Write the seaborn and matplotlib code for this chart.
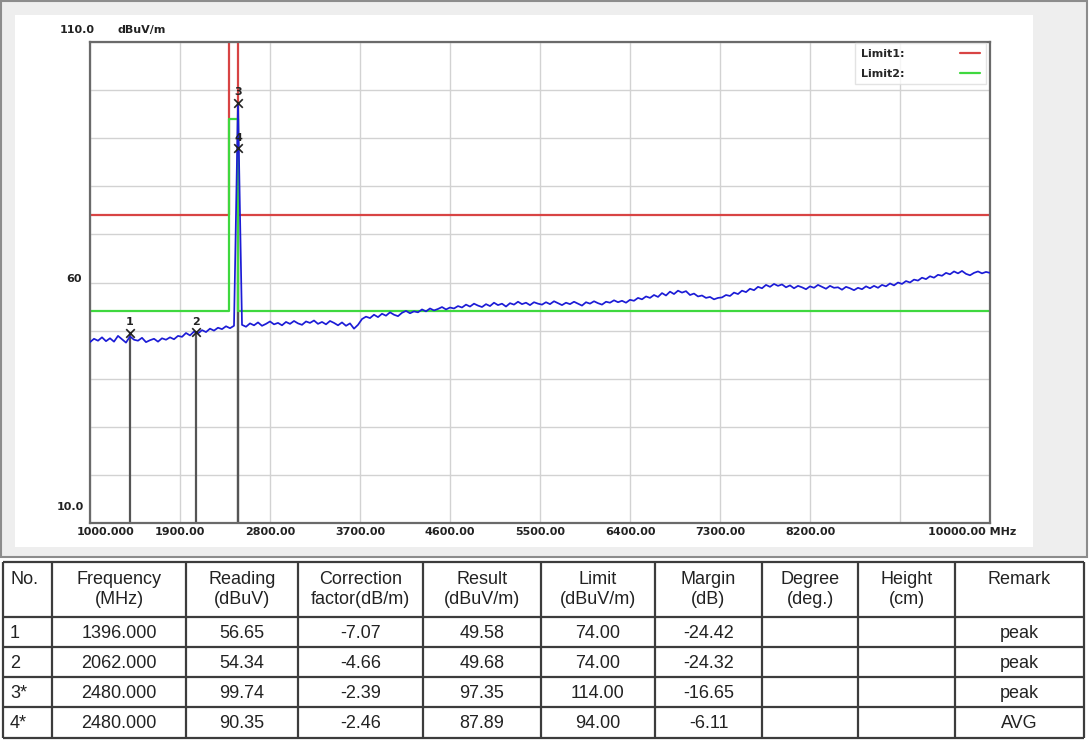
#Standard imports
from matplotlib import pyplot as plt
from matplotlib.lines import Line2D
from matplotlib.patches import Rectangle
import matplotlib.transforms as mtransforms
import numpy as np
import seaborn as sns

# ---- chart data ----
# sweep grid of the analyser (MHz), one reading every 40 MHz
freq_mhz = np.arange(1000, 10001, 40)

level_dbuv = [
    47.6, 48.3, 47.9, 48.6, 47.8, 48.4, 47.7, 48.9, 48.2, 47.5,
    48.8, 48.1, 47.9, 48.5, 47.6, 48.0, 48.3, 47.7, 48.4, 48.1,
    48.6, 48.2, 48.9,
    48.7, 49.5, 49.0, 49.8, 49.4, 50.1, 49.7, 50.4, 50.0, 50.6, 50.3, 50.9, 50.5, 51.0,
    97.35,
    51.2, 50.8, 51.5, 51.1, 51.7, 51.0, 51.4, 51.9, 51.3, 51.6,
    51.1, 51.8, 51.4, 52.0, 51.5, 51.2, 51.9, 51.6, 52.1, 51.4,
    51.8, 51.3, 52.0, 51.6, 51.1, 51.7, 51.0, 51.5, 50.4, 51.2,
    52.4, 52.9, 52.6, 53.3, 52.8, 53.5, 53.1, 53.8, 53.3, 53.0,
    53.7, 54.1, 53.6, 54.0, 53.8, 54.4, 54.0, 54.6, 54.2, 54.5,
    54.9, 54.4, 54.8,
    54.6, 55.1, 54.8, 55.4, 55.0, 55.6, 55.2, 54.9, 55.5, 55.1,
    55.8, 55.3, 55.6, 55.0, 55.7, 55.4, 56.0, 55.5, 55.8, 55.3,
    55.9, 55.6,
    55.4, 55.9, 55.5, 56.1, 55.7, 55.3, 55.8, 55.5, 56.0, 55.6,
    55.2, 55.9, 55.6, 56.1, 55.7, 55.4, 56.0, 55.8, 56.3, 55.9,
    56.2, 55.8, 56.4,
    56.2, 56.8, 56.5, 57.1, 56.8, 57.4, 57.0, 57.8, 57.3, 58.1, 57.6, 58.3,
    57.9, 58.2, 57.4, 57.7, 57.1, 57.3, 56.8, 57.0, 56.5, 56.8,
    56.9, 57.4, 57.2, 57.9, 57.6, 58.3, 58.0, 58.7, 58.4, 59.1, 58.8, 59.5, 59.1, 59.7, 59.3,
    59.6, 59.0, 59.4, 58.8, 59.3, 59.0, 58.6, 59.2, 58.9, 59.5,
    59.1, 58.7, 59.3, 58.9, 59.0, 58.5, 59.1, 58.8, 58.4, 58.9,
    58.6, 59.2, 58.8, 59.3, 58.9, 59.5, 59.2, 59.8, 59.4, 60.0,
    59.7, 60.3, 60.0, 60.6, 60.4, 61.0, 60.7, 61.3, 61.0, 61.6, 61.4, 62.0,
    61.7, 62.3, 61.9, 62.4, 61.8, 61.5, 62.0, 62.3, 61.9, 62.2, 62.0,
]

# limit lines (restricted band steps up)
limit_freq = [1000, 2385, 2385, 2475, 2475, 10000]
limit1_level = [74, 74, 114, 114, 74, 74]
limit2_level = [54, 54, 94, 94, 54, 54]

# markers
marker_no = ["1", "2", "3", "4"]
marker_freq = [1396, 2062, 2480, 2480]
marker_level = [49.58, 49.68, 97.35, 87.89]

x_ticks = [1000, 1900, 2800, 3700, 4600, 5500, 6400, 7300, 8200, 9100, 10000]
x_labels = ["1000.000", "1900.00", "2800.00", "3700.00", "4600.00", "5500.00",
            "6400.00", "7300.00", "8200.00", "", "10000.00 MHz"]

# ---- table data ----
col_head = ["No.", "Frequency\n(MHz)", "Reading\n(dBuV)", "Correction\nfactor(dB/m)",
            "Result\n(dBuV/m)", "Limit\n(dBuV/m)", "Margin\n(dB)", "Degree\n(deg.)",
            "Height\n(cm)", "Remark"]
row_no = ["1", "2", "3*", "4*"]
row_freq = ["1396.000", "2062.000", "2480.000", "2480.000"]
row_reading = ["56.65", "54.34", "99.74", "90.35"]
row_corr = ["-7.07", "-4.66", "-2.39", "-2.46"]
row_result = ["49.58", "49.68", "97.35", "87.89"]
row_limit = ["74.00", "74.00", "114.00", "94.00"]
row_margin = ["-24.42", "-24.32", "-16.65", "-6.11"]
row_degree = ["", "", "", ""]
row_height = ["", "", "", ""]
row_remark = ["peak", "peak", "peak", "AVG"]

RED = "#d84444"
GREEN = "#3fd83f"
BLUE = "#1c1cd6"

sns.set_theme(style="white")
plt.rcParams['font.family'] = ['DejaVu Sans']

W, H = 1089, 745
fig = plt.figure(figsize=(W / 100, H / 100), dpi=100)
fig.patch.set_facecolor("white")

def fx(px):
    return px / W

def fy(py):
    return 1 - py / H

# grey frame round the chart and white panel inside
fig.add_artist(Rectangle((fx(1), fy(557)), fx(1086), 556 / H, transform=fig.transFigure,
                         facecolor="#eeeeee", edgecolor="#8c8c8c", lw=1.5, zorder=0))
fig.add_artist(Rectangle((fx(15), fy(547)), fx(1018), 532 / H, transform=fig.transFigure,
                         facecolor="white", edgecolor="none", zorder=0))

# ---- the spectrum plot ----
ax = fig.add_axes([fx(90), fy(523), fx(900), 481 / H])
ax.set_facecolor("white")

ax.vlines(marker_freq, 10, marker_level, color="#555555", lw=1.6, zorder=1)
sns.lineplot(x=limit_freq, y=limit1_level, color=RED, lw=1.6, estimator=None,
             sort=False, ax=ax, zorder=2)
sns.lineplot(x=limit_freq, y=limit2_level, color=GREEN, lw=1.6, estimator=None,
             sort=False, ax=ax, zorder=2)
sns.lineplot(x=freq_mhz, y=level_dbuv, color=BLUE, lw=1.25, estimator=None,
             sort=False, ax=ax, zorder=3)
ax.scatter(marker_freq, marker_level, marker="x", s=38, color="#222222", lw=1.2, zorder=5)
for n, f, l in zip(marker_no, marker_freq, marker_level):
    ax.annotate(n, (f, l), xytext=(0, 4), textcoords="offset points", ha="center",
                va="bottom", fontsize=8, fontweight="bold", color="#222222", zorder=6)

ax.set_xlim(1000, 10000)
ax.set_ylim(10, 110)
ax.set_xticks(x_ticks)
ax.set_xticklabels(x_labels, fontsize=8, fontweight="bold", color="#222222")
ax.set_yticks(np.arange(10, 111, 10))
ax.set_yticklabels([])
ax.tick_params(length=0, pad=3)
ax.grid(True, color="#d2d2d2", lw=1.0)
ax.set_xlabel("")
ax.set_ylabel("")
for s in ax.spines.values():
    s.set_color("#6a6a6a")
    s.set_linewidth(1.6)

# nudge the first and last x labels like the analyser does
labs = ax.get_xticklabels()
labs[0].set_transform(labs[0].get_transform() +
                      mtransforms.ScaledTranslation(0.16, 0, fig.dpi_scale_trans))
labs[-1].set_transform(labs[-1].get_transform() +
                       mtransforms.ScaledTranslation(-0.18, 0, fig.dpi_scale_trans))

# y labels
fig.text(fx(60), fy(30), "110.0", fontsize=8, fontweight="bold", va="center", color="#222222")
fig.text(fx(118), fy(30), "dBuV/m", fontsize=8, fontweight="bold", va="center", color="#222222")
fig.text(fx(82), fy(279), "60", fontsize=8, fontweight="bold", va="center", ha="right", color="#222222")
fig.text(fx(84), fy(507), "10.0", fontsize=8, fontweight="bold", va="center", ha="right", color="#222222")

handles = [Line2D([], [], color=RED, lw=1.6), Line2D([], [], color=GREEN, lw=1.6)]
leg = ax.legend(handles, ["Limit1:", "Limit2:"], loc="upper right",
                bbox_to_anchor=(0.995, 0.998), borderaxespad=0, markerfirst=False,
                fancybox=False, frameon=True, handlelength=1.8, handletextpad=5.0,
                labelspacing=0.9, borderpad=0.5,
                prop={"size": 8, "weight": "bold"})
leg.get_frame().set_edgecolor("#dddddd")
leg.get_frame().set_linewidth(1.0)

# ---- the result table ----
tax = fig.add_axes([0, 0, 1, (H - 557) / H])
tax.set_xlim(0, W)
tax.set_ylim(H, 557)
tax.axis("off")

col_edges = [3, 52, 186, 298, 423, 541, 655, 762, 858, 955, 1084]
row_edges = [562, 617, 647, 677, 707, 738]
tax.hlines(row_edges, col_edges[0], col_edges[-1], color="#3c3c3c", lw=1.6)
tax.vlines(col_edges, row_edges[0], row_edges[-1], color="#3c3c3c", lw=1.6)

tfont = {"family": "Liberation Sans", "size": 13, "color": "#222222"}
for i, head in enumerate(col_head):
    if i == 0:
        tax.text(10, 579, head, ha="left", va="center", **tfont)
        continue
    cx = (col_edges[i] + col_edges[i + 1]) / 2
    for k, part in enumerate(head.split("\n")):
        tax.text(cx, 579 + 21 * k, part, ha="center", va="center", **tfont)

columns = [row_no, row_freq, row_reading, row_corr, row_result, row_limit,
           row_margin, row_degree, row_height, row_remark]
for r in range(len(row_no)):
    cy = (row_edges[r + 1] + row_edges[r + 2]) / 2 + 1
    for i, col in enumerate(columns):
        if i == 0:
            tax.text(10, cy, col[r], ha="left", va="center", **tfont)
        else:
            cx = (col_edges[i] + col_edges[i + 1]) / 2
            tax.text(cx, cy, col[r], ha="center", va="center", **tfont)

plt.savefig("out.png", dpi=100, facecolor=fig.get_facecolor())
